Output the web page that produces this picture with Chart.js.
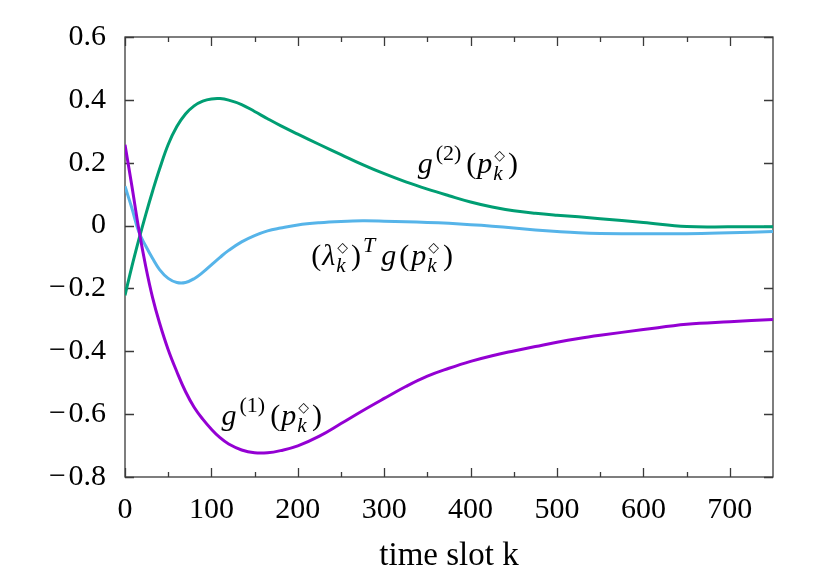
<!DOCTYPE html>
<html>
<head>
<meta charset="utf-8">
<script src="https://cdn.jsdelivr.net/npm/chart.js@4/dist/chart.umd.min.js"></script>
<style>
  html, body { margin: 0; padding: 0; background: #fff; }
  #wrap { width: 830px; height: 581px; }
</style>
</head>
<body>
<div id="wrap"><canvas id="myChart" width="830" height="581"></canvas></div>
<script>
// time slots and the three curves
const kSlots = [0, 8, 16, 24, 32, 40, 50, 60, 70, 80, 90, 100, 110, 120, 135, 150, 165, 180, 200, 225, 250, 275, 300, 325, 350, 375, 400, 425, 450, 475, 500, 525, 550, 600, 650, 700, 750]
const g1Values = [0.257, 0.125, -0.012, -0.13, -0.23, -0.31, -0.395, -0.465, -0.528, -0.578, -0.616, -0.648, -0.675, -0.695, -0.714, -0.723, -0.723, -0.716, -0.701, -0.67, -0.63, -0.589, -0.55, -0.512, -0.479, -0.454, -0.432, -0.414, -0.399, -0.385, -0.371, -0.359, -0.349, -0.331, -0.314, -0.306, -0.299]
const g2Values = [-0.222, -0.13, -0.045, 0.035, 0.11, 0.18, 0.258, 0.315, 0.355, 0.381, 0.396, 0.403, 0.404, 0.399, 0.385, 0.363, 0.34, 0.318, 0.291, 0.258, 0.226, 0.194, 0.165, 0.139, 0.116, 0.095, 0.075, 0.059, 0.047, 0.039, 0.033, 0.028, 0.022, 0.01, -0.003, -0.004, -0.004]
const lagrValues = [0.125, 0.055, -0.02, -0.065, -0.105, -0.14, -0.168, -0.181, -0.181, -0.169, -0.149, -0.125, -0.101, -0.079, -0.052, -0.032, -0.017, -0.008, 0.002, 0.009, 0.013, 0.015, 0.014, 0.012, 0.01, 0.007, 0.003, -0.002, -0.008, -0.014, -0.019, -0.023, -0.025, -0.026, -0.026, -0.023, -0.019]

const xTicks = [0, 100, 200, 300, 400, 500, 600, 700]
const yTicks = [-0.8, -0.6, -0.4, -0.2, 0, 0.2, 0.4, 0.6]

const serif = "'Liberation Serif', 'DejaVu Serif', serif"

function pts(values) {
    return kSlots.map((k, i) => ({ x: k, y: values[i] }))
}

// math labels: anchor in data coords, then pieces
const diamond = { t: '\u25C7', font: "14px 'DejaVu Sans', sans-serif", dy: -13, dx: 2 }
const subK = { t: 'k', it: true, s: 21, dy: 7, dx: 1 }
const mathLabels = [
    { k: 338.7, v: 0.168, parts: [
        { t: 'g', it: true }, { t: '(2)', s: 22, dy: -13, pre: 3 }, { t: '(', pre: 5 }, { t: 'p', it: true, pre: 1 },
        { stack: [diamond, subK] }, { t: ')', pre: 3 }] },
    { k: 111.7, v: -0.636, parts: [
        { t: 'g', it: true }, { t: '(1)', s: 22, dy: -13, pre: 3 }, { t: '(', pre: 5 }, { t: 'p', it: true, pre: 1 },
        { stack: [diamond, subK] }, { t: ')', pre: 3 }] },
    { k: 215.6, v: -0.124, parts: [
        { t: '(' }, { t: '\u03BB', it: true, pre: 1 }, { stack: [diamond, subK] }, { t: ')', pre: 3 },
        { t: 'T', it: true, s: 22, dy: -13, pre: 2 }, { t: 'g', it: true, pre: 6 }, { t: '(', pre: 3 }, { t: 'p', it: true, pre: 2 },
        { stack: [diamond, subK] }, { t: ')', pre: 4 }] }
]

function fontOf(p) {
    if (p.font) return p.font
    return (p.it ? 'italic ' : '') + (p.s || 30) + 'px ' + serif
}

function drawMath(ctx, x, y, parts) {
    let cx = x
    parts.forEach(p => {
        cx += p.pre || 0
        if (p.stack) {
            let w = 0
            p.stack.forEach(q => {
                ctx.font = fontOf(q)
                ctx.fillText(q.t, cx + (q.dx || 0), y + (q.dy || 0))
                w = Math.max(w, ctx.measureText(q.t).width + (q.dx || 0))
            })
            cx += w
            return
        }
        ctx.font = fontOf(p)
        ctx.fillText(p.t, cx, y + (p.dy || 0))
        cx += ctx.measureText(p.t).width
    })
}

const framePlugin = {
    id: 'frame',
    beforeDatasetsDraw(chart) {
        const { ctx, chartArea: a, scales } = chart
        ctx.save()
        ctx.strokeStyle = '#3a3a3a'
        ctx.lineWidth = 1.3
        ctx.strokeRect(a.left, a.top, a.right - a.left, a.bottom - a.top)
        ctx.beginPath()
        for (let v = 0; v <= 700; v += 50) {
            const px = Math.round(scales.x.getPixelForValue(v)) + 0.5
            const len = v % 100 === 0 ? 9 : 5
            ctx.moveTo(px, a.bottom); ctx.lineTo(px, a.bottom - len)
            ctx.moveTo(px, a.top); ctx.lineTo(px, a.top + len)
        }
        yTicks.forEach(v => {
            const py = Math.round(scales.y.getPixelForValue(v)) + 0.5
            ctx.moveTo(a.left, py); ctx.lineTo(a.left + 9, py)
            ctx.moveTo(a.right, py); ctx.lineTo(a.right - 9, py)
        })
        ctx.stroke()
        ctx.restore()
    },
    afterDatasetsDraw(chart) {
        const { ctx, scales } = chart
        ctx.save()
        ctx.fillStyle = '#000'
        ctx.textBaseline = 'alphabetic'
        mathLabels.forEach(l => {
            drawMath(ctx, scales.x.getPixelForValue(l.k), scales.y.getPixelForValue(l.v), l.parts)
        })
        ctx.restore()
    }
}

var chartField = document.querySelector('#myChart').getContext('2d')

var myChart = new Chart(chartField, {
    type: 'line',
    data: {
        datasets: [
            { label: 'g1', data: pts(g1Values), borderColor: '#9400D3' },
            { label: 'g2', data: pts(g2Values), borderColor: '#009E73' },
            { label: 'lambda g', data: pts(lagrValues), borderColor: '#56B4E9' }
        ]
    },
    options: {
        responsive: false,
        animation: false,
        events: [],
        layout: { padding: { top: 37, right: 57, left: 0, bottom: 0 } },
        elements: {
            point: { radius: 0 },
            line: { borderWidth: 3, tension: 0.4, fill: false }
        },
        plugins: { legend: { display: false }, tooltip: { enabled: false } },
        scales: {
            x: {
                type: 'linear',
                min: 0,
                max: 750,
                afterBuildTicks: s => { s.ticks = xTicks.map(v => ({ value: v })) },
                afterFit: s => { s.height = 104 },
                grid: { display: false, drawTicks: false },
                border: { display: false },
                ticks: { color: '#000', padding: 15, maxRotation: 0, font: { family: serif, size: 30 } },
                title: {
                    display: true,
                    text: 'time slot k',
                    color: '#000',
                    padding: { top: 0, bottom: 5 },
                    font: { family: serif, size: 33 }
                }
            },
            y: {
                min: -0.8,
                max: 0.6,
                afterBuildTicks: s => { s.ticks = yTicks.map(v => ({ value: v })) },
                afterFit: s => { s.width = 125 },
                grid: { display: false, drawTicks: false },
                border: { display: false },
                ticks: {
                    color: '#000',
                    padding: 19,
                    font: { family: serif, size: 30 },
                    callback: v => {
                        const r = Math.round(v * 10) / 10
                        if (r === 0) return '0'
                        return (r < 0 ? '\u2212\u200A' : '') + Math.abs(r).toFixed(1)
                    }
                }
            }
        }
    },
    plugins: [framePlugin]
});
</script>
</body>
</html>
